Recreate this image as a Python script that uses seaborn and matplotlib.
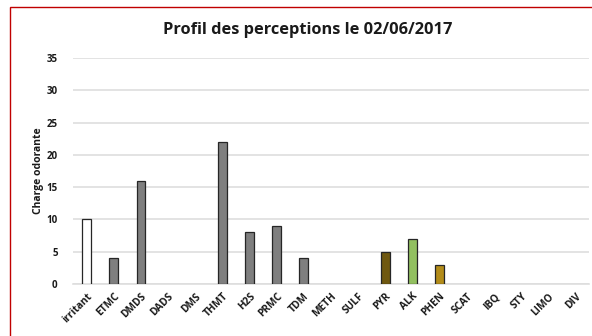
import matplotlib
matplotlib.use("Agg")
import matplotlib.pyplot as plt
import matplotlib.patches as mpatches
import seaborn as sns
import pandas as pd

categories = ["irritant", "ETMC", "DMDS", "DADS", "DMS", "THMT", "H2S", "PRMC", "TDM",
              "METH", "SULF", "PYR", "ALK", "PHEN", "SCAT", "IBQ", "STY", "LIMO", "DIV"]
values = [10, 4, 16, 0, 0, 22, 8, 9, 4, 0, 0, 5, 7, 3, 0, 0, 0, 0, 0]
bar_colors = ["#ffffff", "#7f7f7f", "#7f7f7f", "#7f7f7f", "#7f7f7f", "#7f7f7f", "#7f7f7f",
              "#7f7f7f", "#7f7f7f", "#7f7f7f", "#7f7f7f", "#7f6000", "#92d050", "#cc9900",
              "#7f7f7f", "#7f7f7f", "#7f7f7f", "#7f7f7f", "#7f7f7f"]
y_ticks = [0, 5, 10, 15, 20, 25, 30, 35]

sns.set_theme(style="white")
plt.rcParams["font.family"] = ["Open Sans", "DejaVu Sans"]

df = pd.DataFrame({"cat": categories, "val": values})

fig = plt.figure(figsize=(5.92, 3.36), dpi=100)
ax = fig.add_axes([73 / 592, 1 - 284 / 336, 516 / 592, 226 / 336])

sns.barplot(data=df, x="cat", y="val", hue="cat", palette=bar_colors, legend=False,
            width=0.32, edgecolor="#262626", linewidth=0.9, ax=ax, zorder=3)

# zero-height bars are not drawn at all
for patch in ax.patches:
    if patch.get_height() == 0:
        patch.set_visible(False)

ax.set_ylim(0, 35)
ax.set_xlim(-0.5, len(categories) - 0.5)
ax.set_yticks(y_ticks)
ax.set_yticklabels([str(t) for t in y_ticks], fontsize=7, fontweight="bold", color="#1a1a1a")
ax.yaxis.grid(True, color="#dedede", linewidth=1.2, zorder=0)
ax.set_axisbelow(True)
ax.set_xticks(range(len(categories)))
ax.set_xticklabels(categories, rotation=45, ha="right", rotation_mode="anchor",
                   fontsize=7.3, fontweight="bold", color="#1a1a1a")
ax.tick_params(axis="y", length=0, pad=11)
ax.tick_params(axis="x", length=0, pad=5)
for s in ["top", "right", "left"]:
    ax.spines[s].set_visible(False)
ax.spines["bottom"].set_color("#dedede")
ax.spines["bottom"].set_linewidth(1.2)
ax.set_xlabel("")
ax.set_ylabel("Charge odorante", fontsize=7.5, fontweight="bold", color="#1a1a1a", labelpad=2)

fig.text(307.5 / 592, 1 - 30 / 336, "Profil des perceptions le 02/06/2017",
         ha="center", va="center", fontsize=11.8, fontweight="bold", color="#1a1a1a")

border = mpatches.Rectangle((10 / 592, -0.1), 1.2, 1 - 7 / 336 + 0.1,
                            transform=fig.transFigure, fill=False,
                            edgecolor="#c00000", linewidth=1.0)
fig.patches.append(border)

fig.savefig("out.png", dpi=100)
